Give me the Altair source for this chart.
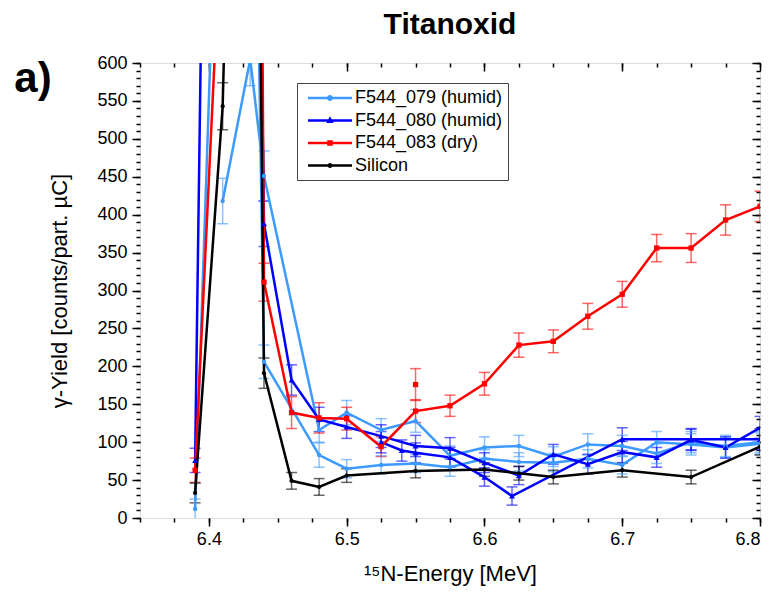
import altair as alt
import pandas as pd

# ---------------- data ----------------
series_names = ["F544_079 (humid)", "F544_080 (humid)", "F544_083 (dry)", "Silicon"]
series_colors = ["#3d9bff", "#0000ff", "#ff0000", "#000000"]

# F544_079 (humid) - light blue, two scans
lb1_E = [6.39, 6.425, 6.44, 6.48, 6.5, 6.525, 6.55, 6.575, 6.6, 6.625, 6.65, 6.675, 6.7, 6.725, 6.75, 6.775, 6.8]
lb1_Y = [12, 1900, 206, 83, 65, 70, 72, 67, 78, 74, 73, 78, 70, 100, 97, 93, 98]
lb1_err = [13, 40, 22, 16, 12, 12, 12, 12, 12, 12, 12, 12, 12, 14, 14, 14, 14]
lb2_E = [6.41, 6.43, 6.44, 6.48, 6.5, 6.525, 6.55, 6.575, 6.6, 6.625, 6.65, 6.675, 6.7, 6.725, 6.75, 6.775, 6.8]
lb2_Y = [418, 605, 451, 116, 139, 116, 128, 82, 93, 95, 81, 97, 95, 85, 100, 95, 100]
lb2_err = [30, 35, 33, 16, 16, 15, 15, 13, 14, 14, 13, 14, 14, 13, 14, 14, 14]

# F544_080 (humid) - dark blue, two scans
db1_E = [6.39, 6.41, 6.43, 6.44, 6.46, 6.48, 6.5, 6.525, 6.55, 6.575, 6.6, 6.625, 6.65, 6.675, 6.7, 6.725, 6.75, 6.775, 6.8]
db1_Y = [76, 2700, 1710, 388, 182, 130, 120, 108, 95, 92, 73, 56, 84, 71, 87, 80, 103, 93, 119]
db1_err = [16, 50, 45, 30, 20, 16, 15, 15, 14, 14, 13, 12, 13, 13, 14, 13, 14, 14, 15]
db2_E = [6.525, 6.54, 6.55, 6.575, 6.6, 6.62, 6.7, 6.75, 6.8]
db2_Y = [100, 89, 86, 80, 54, 29, 104, 104, 104]
db2_err = [14, 14, 13, 13, 12, 12, 15, 14, 14]

# F544_083 (dry) - red
rd_E = [6.39, 6.41, 6.43, 6.44, 6.46, 6.48, 6.5, 6.525, 6.55, 6.575, 6.6, 6.625, 6.65, 6.675, 6.7, 6.725, 6.75, 6.775, 6.8]
rd_Y = [63, 830, 3200, 311, 139, 132, 131, 94, 141, 148, 177, 228, 233, 266, 295, 356, 356, 393, 411]
rd_err = [16, 35, 60, 25, 21, 20, 15, 13, 15, 14, 15, 16, 15, 17, 17, 18, 19, 20, 20]
rd_extra_E = [6.55]
rd_extra_Y = [176]
rd_extra_err = [21]

# Silicon - black
si_E = [6.39, 6.41, 6.43, 6.44, 6.46, 6.48, 6.5, 6.55, 6.6, 6.625, 6.65, 6.7, 6.75, 6.8]
si_Y = [33, 543, 1970, 191, 49, 41, 56, 62, 64, 59, 54, 63, 54, 94]
si_err = [13, 31, 50, 20, 11, 11, 9, 9, 9, 9, 9, 9, 9, 11]

x_major = [6.4, 6.5, 6.6, 6.7, 6.8]
x_minor = [round(6.35 + 0.025 * i, 3) for i in range(19)]
y_major = list(range(0, 601, 50))
y_minor = list(range(0, 601, 10))

# ---------------- table ----------------
rows = []
def add(series, scan, E, Y, err):
    for e, y, s in zip(E, Y, err):
        rows.append(dict(series=series, scan=scan, E=e, Y=y, lo=y - s, hi=y + s))

add(series_names[0], "lb1", lb1_E, lb1_Y, lb1_err)
add(series_names[0], "lb2", lb2_E, lb2_Y, lb2_err)
add(series_names[1], "db1", db1_E, db1_Y, db1_err)
add(series_names[1], "db2", db2_E, db2_Y, db2_err)
add(series_names[2], "rd", rd_E, rd_Y, rd_err)
add(series_names[2], "rd_extra", rd_extra_E, rd_extra_Y, rd_extra_err)
add(series_names[3], "si", si_E, si_Y, si_err)
df = pd.DataFrame(rows)

FONT = "Liberation Sans"
xs = alt.Scale(domain=[6.35, 6.8], nice=False, zero=False)
ys = alt.Scale(domain=[0, 600], nice=False, zero=False)
# data-driven (alphabetical = series_names order) scales for the drawn marks
ds = alt.Scale(range=series_colors)
# explicit scale for the legend
cs = alt.Scale(domain=series_names, range=series_colors)

base = alt.Chart(df)
X = alt.X("E:Q", scale=xs, axis=None)
Y = alt.Y("Y:Q", scale=ys, axis=None)
S = alt.Stroke("series:N", scale=ds, legend=None)
F = alt.Fill("series:N", scale=ds, legend=None)

err_rules = base.mark_rule(clip=True, strokeWidth=1.5, opacity=0.6).encode(
    x=X, y=alt.Y("lo:Q", scale=ys, axis=None), y2="hi:Q", stroke=S)
cap_lo = base.mark_tick(clip=True, orient="horizontal", size=11, thickness=1.5, opacity=0.6).encode(
    x=X, y=alt.Y("lo:Q", scale=ys, axis=None), fill=F)
cap_hi = base.mark_tick(clip=True, orient="horizontal", size=11, thickness=1.5, opacity=0.6).encode(
    x=X, y=alt.Y("hi:Q", scale=ys, axis=None), fill=F)

lines = base.mark_line(clip=True, strokeWidth=2.5).encode(
    x=X, y=Y, stroke=S, detail="scan:N", order="E:Q")

shapes = ["circle", "triangle-up", "square", "circle"]
sizes = [20, 36, 28, 18]
point_layers = []
for name, shp, sz in zip(series_names, shapes, sizes):
    point_layers.append(
        base.transform_filter(alt.datum.series == name)
        .mark_point(clip=True, filled=True, opacity=1, shape=shp, size=sz, strokeWidth=0)
        .encode(x=X, y=Y, fill=F)
    )

# legend-only layer (no marks drawn), symbols = line + marker (unit = 10 px)
rect = "M-2.2,-0.125H2.2V0.125H-2.2Z"
circ = "M-0.3,0A0.3,0.3 0 1,1 0.3,0A0.3,0.3 0 1,1 -0.3,0Z"
tri = "M0,-0.42L0.37,0.26L-0.37,0.26Z"
sq = "M-0.28,-0.28H0.28V0.28H-0.28Z"
circ_s = "M-0.25,0A0.25,0.25 0 1,1 0.25,0A0.25,0.25 0 1,1 -0.25,0Z"
legend_paths = [rect + circ, rect + tri, rect + sq, rect + circ_s]
leg = alt.Legend(orient="none", legendX=157, legendY=20, title=None,
                 strokeColor="#444444", padding=5, symbolSize=400, symbolOffset=18,
                 labelFont=FONT, labelFontSize=18, labelColor="black",
                 labelOffset=15, rowPadding=3.5, symbolStrokeWidth=0, symbolOpacity=1)
legend_layer = base.transform_filter("false").mark_point(filled=True, opacity=1).encode(
    x=X, y=Y,
    color=alt.Color("series:N", scale=cs, legend=leg),
    shape=alt.Shape("series:N", scale=alt.Scale(domain=series_names, range=legend_paths), legend=leg),
)

# axis carrier layers
empty = base.transform_filter("false").mark_point(opacity=0)
common = dict(grid=False, domain=False, tickColor="black", tickWidth=1.5,
              labelFont=FONT, labelFontSize=18, labelColor="black",
              titleFont=FONT, titleFontSize=22, titleFontWeight="normal", titleColor="black")

ax_major = empty.encode(
    x=alt.X("E:Q", scale=xs, title="¹⁵N-Energy [MeV]",
            axis=alt.Axis(orient="bottom", values=x_major, format=".1f", tickSize=8,
                          labelPadding=4, titlePadding=15, **common)),
    y=alt.Y("Y:Q", scale=ys, title="γ-Yield [counts/part. µC]",
            axis=alt.Axis(orient="left", values=y_major, format="d", tickSize=8,
                          labelPadding=5, titlePadding=25, **common)),
)
ax_minor = empty.encode(
    x=alt.X("E:Q", scale=xs, title=None,
            axis=alt.Axis(orient="bottom", values=x_minor, labels=False, tickSize=4, **common)),
    y=alt.Y("Y:Q", scale=ys, title=None,
            axis=alt.Axis(orient="left", values=y_minor, labels=False, tickSize=4, **common)),
)
ax_top_major = empty.encode(
    x=alt.X("E:Q", scale=xs, title=None,
            axis=alt.Axis(orient="top", values=x_major, labels=False, tickSize=8, offset=-8, **common)),
    y=alt.Y("Y:Q", scale=ys, title=None,
            axis=alt.Axis(orient="right", values=y_major, labels=False, tickSize=8, offset=-8, **common)),
)
ax_top_minor = empty.encode(
    x=alt.X("E:Q", scale=xs, title=None,
            axis=alt.Axis(orient="top", values=x_minor, labels=False, tickSize=4, offset=-4, **common)),
    y=alt.Y("Y:Q", scale=ys, title=None,
            axis=alt.Axis(orient="right", values=y_minor, labels=False, tickSize=4, offset=-4, **common)),
)

panel_label = alt.Chart(pd.DataFrame({"t": ["a)"]})).mark_text(
    font=FONT, fontSize=42, fontWeight="bold", align="center", baseline="middle", color="black"
).encode(x=alt.value(-107), y=alt.value(16), text="t:N")

chart = alt.layer(
    ax_major, ax_minor, ax_top_major, ax_top_minor,
    err_rules, cap_lo, cap_hi, lines, *point_layers, legend_layer, panel_label,
).resolve_axis(x="independent", y="independent").properties(
    width=620, height=455,
    title=alt.Title("Titanoxid", font=FONT, fontSize=30, fontWeight="bold", anchor="middle",
                    color="black", offset=14),
    autosize=alt.AutoSizeParams(type="none"),
    padding={"left": 140, "top": 63, "right": 16, "bottom": 79},
).configure_view(stroke="black", strokeWidth=1.5).configure(background="white")

chart.save("out.html", embed_options={"renderer": "svg", "actions": False})
